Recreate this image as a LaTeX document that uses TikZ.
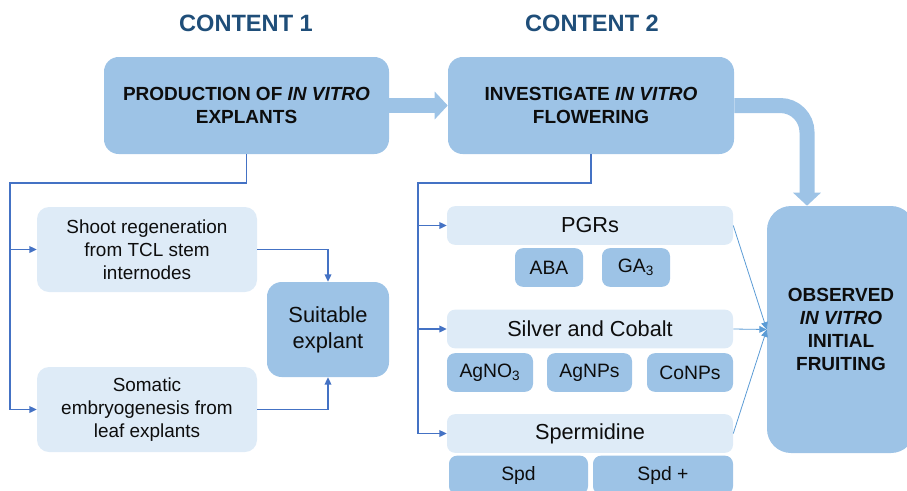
\documentclass[tikz,border=0pt]{standalone}
\usepackage{fontspec}
\setmainfont{Liberation Sans}
\usetikzlibrary{positioning,arrows.meta}

\definecolor{boxblue}{HTML}{9DC3E6}
\definecolor{paleblue}{HTML}{DEEBF7}
\definecolor{titleblue}{HTML}{1F4E79}
\definecolor{linkblue}{HTML}{4472C4}
\definecolor{rayblue}{HTML}{5B9BD5}
\definecolor{ink}{HTML}{0D0D0D}

\tikzset{
  title/.style={font=\fontsize{17.7}{20}\selectfont\bfseries,text=titleblue},
  big/.style={fill=boxblue,rounded corners=11pt,align=center,inner sep=0pt,
    text=ink,font=\fontsize{14.25}{17.25}\selectfont\bfseries},
  pale/.style={fill=paleblue,rounded corners=9pt,align=center,inner sep=0pt,
    text=ink,font=\fontsize{14.2}{17.25}\selectfont,
    minimum width=165pt,minimum height=63.75pt},
  bar/.style={fill=paleblue,rounded corners=6pt,inner sep=0pt,text=ink,
    font=\fontsize{16.3}{19}\selectfont,minimum width=214.5pt,minimum height=29pt},
  chip/.style={fill=boxblue,rounded corners=6pt,inner sep=0pt,text=ink,
    font=\fontsize{14.5}{17}\selectfont,minimum height=29pt},
  link/.style={linkblue,line width=1pt},
  ray/.style={rayblue,line width=0.6pt},
  fat/.style={boxblue,line width=11.25pt,-{Triangle[length=9.75pt,width=20.25pt]}}
}

\begin{document}
\begin{tikzpicture}[x=0.75pt,y=-0.75pt,>={Triangle[length=5.5pt,width=5pt]}]
	\useasboundingbox (0,0) rectangle (907,490);
	\clip (0,0) rectangle (907,490);

	\node[title] (c1) at (246,23) {CONTENT 1};
	\node[title] (c2) at (592,23) {CONTENT 2};

	\node[big,minimum width=213.75pt,minimum height=72.75pt] (prod) at (246.5,105.5) {PRODUCTION OF \textit{IN VITRO}\\EXPLANTS};
	\node[big,minimum width=214.5pt,minimum height=72.75pt] (inv) at (591,105.5) {INVESTIGATE \textit{IN VITRO}\\FLOWERING};

	\node[pale] (shoot) at (147,249.5) {Shoot regeneration\\from TCL stem\\internodes};
	\node[pale] (soma) at (147,409.5) {Somatic\\embryogenesis from\\leaf explants};
	\node[big,font=\fontsize{16.4}{19.5}\selectfont,minimum width=91.5pt,minimum height=71.25pt] (suit) at (328,329.5) {Suitable\\explant};

	\node[bar] (pgr) at (590,225.5) {PGRs};
	\node[chip,minimum width=51pt] (aba) at (549,267.5) {ABA};
	\node[chip,minimum width=51pt] (ga) at (636,267.5) {GA\textsubscript{3}};
	\node[bar] (silv) at (590,329) {Silver and Cobalt};
	\node[chip,minimum width=64.5pt] (agno) at (490,372.5) {AgNO\textsubscript{3}};
	\node[chip,minimum width=63.75pt] (agnp) at (589.5,372.5) {AgNPs};
	\node[chip,minimum width=64.5pt] (conp) at (690,372.5) {CoNPs};
	\node[bar] (sperm) at (590,433.5) {Spermidine};
	\node[chip,minimum width=104.25pt] (spd) at (518.5,475) {Spd};
	\node[chip,minimum width=105pt] (spdp) at (663,475) {Spd +};

	\node[big,rounded corners=18pt,minimum width=111pt,minimum height=185.25pt] (obs) at (841,329.5) {OBSERVED\\\textit{IN VITRO}\\INITIAL\\FRUITING};

	\coordinate (lj) at (10,183);
	\coordinate (rj) at (418,183);

	% content 1 branches
	\draw[link,->] (prod.south) |- (lj) |- (soma.west);
	\draw[link,->] (lj) |- (shoot.west);
	\draw[link,->] (shoot.east) -| (suit.north);
	\draw[link,->] (soma.east) -| (suit.south);

	% content 2 branches
	\draw[link,->] (inv.south) |- (rj) |- (sperm.west);
	\draw[link,->] (rj) |- (pgr.west);
	\draw[link,->] (rj) |- (silv.west);
	\path[ray,->]
	(pgr.east) edge (obs.west)
	(silv.east) edge (obs.west)
	(sperm.east) edge (obs.west);

	\draw[fat] (prod.east) -- (inv.west);
	\draw[fat,rounded corners=20pt] (inv.east) -| ([xshift=-25.5pt]obs.north);
\end{tikzpicture}
\end{document}
